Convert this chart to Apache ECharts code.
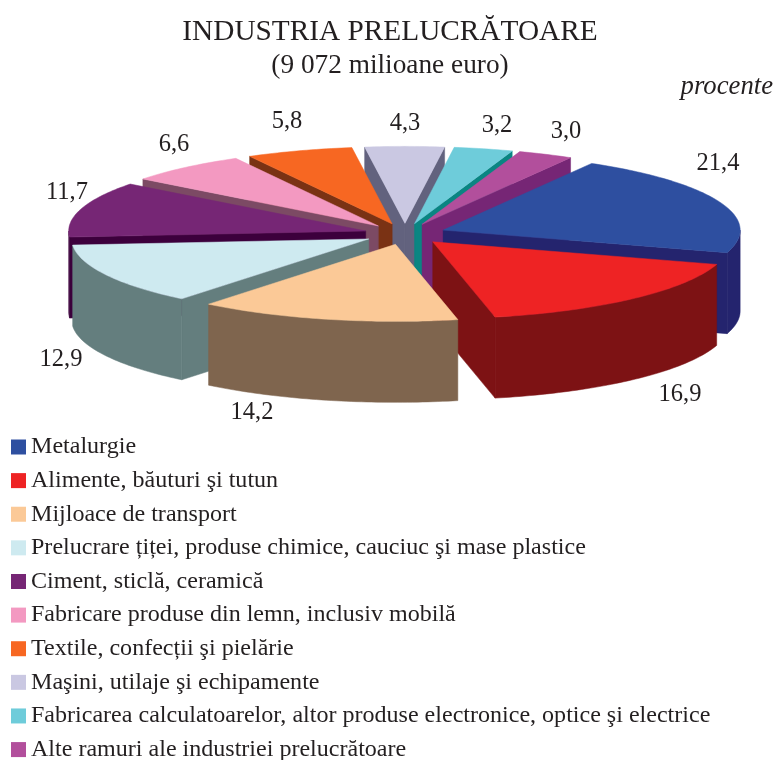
<!DOCTYPE html>
<html>
<head>
<meta charset="utf-8">
<style>html,body{margin:0;padding:0;background:#fff}#c{width:776px;height:760px}</style>
<script src="https://cdn.jsdelivr.net/npm/echarts@6/dist/echarts.min.js"></script>
</head>
<body>
<div id="c"></div>
<script>
const categories = [
  'Metalurgie',
  'Alimente, băuturi şi tutun',
  'Mijloace de transport',
  'Prelucrare țiței, produse chimice, cauciuc şi mase plastice',
  'Ciment, sticlă, ceramică',
  'Fabricare produse din lemn, inclusiv mobilă',
  'Textile, confecții şi pielărie',
  'Maşini, utilaje şi echipamente',
  'Fabricarea calculatoarelor, altor produse electronice, optice şi electrice',
  'Alte ramuri ale industriei prelucrătoare'
];
const values = [21.4, 16.9, 14.2, 12.9, 11.7, 6.6, 5.8, 4.3, 3.2, 3.0];
const topColors = ['#2E4FA0','#EE2324','#FBC997','#CEEAF0','#762675','#F399C1','#F76722','#CAC8E2','#6ECCDA','#B24F9C'];
const wallColors = ['#24246E','#7D1214','#7F654E','#647E7E','#3C003C','#7C4A64','#7A3214','#62627E','#0A8582','#762675'];
const labelAnchors = [[718,164],[680,395],[252,413],[61,360],[67,193],[174,145],[287,122],[405,124],[497,126],[566,132]];

// Projection of the tilted, exploded pie
const CX = 405, CY = 234, RX = 297, RY = 77, DEPTH = 81, EXPLODE = 41, START = -60;
const TEXT = '#231F20', SERIF = '"Liberation Serif", serif';
const rad = d => d * Math.PI / 180;
const total = values.reduce((a, b) => a + b, 0);

function renderSlice(params, api) {
  const i = params.seriesIndex;
  const value = api.value(0), before = api.value(1);
  const t1 = START + before / total * 360, t2 = t1 + value / total * 360, mid = (t1 + t2) / 2;
  const ax = CX + EXPLODE * Math.cos(rad(mid));
  const ay = CY + EXPLODE * (RY / RX) * Math.sin(rad(mid));
  const pt = (t, h) => [ax + RX * Math.cos(rad(t)), ay + RY * Math.sin(rad(t)) + (h || 0)];
  const arc = (a, b, h) => {
    const out = [], n = Math.max(2, Math.ceil(Math.abs(b - a)));
    for (let k = 0; k <= n; k++) out.push(pt(a + (b - a) * k / n, h));
    return out;
  };
  const base = Math.round(Math.sin(rad(mid)) * 1000) * 4;
  const wall = wallColors[i], top = topColors[i];
  const poly = (points, fill, z2) => ({
    type: 'polygon', z2, shape: { points },
    style: { fill, stroke: fill, lineWidth: 0.5 }
  });
  const children = [];
  const radial = t => poly([[ax, ay], pt(t), pt(t, DEPTH), [ax, ay + DEPTH]], wall, base);
  if (Math.cos(rad(t1)) < 0) children.push(radial(t1));
  if (Math.cos(rad(t2)) > 0) children.push(radial(t2));
  // Only the front half of the rim shows, in either turn of the circle
  [[0, 180], [360, 540]].forEach(([lo, hi]) => {
    const a = Math.max(t1, lo), b = Math.min(t2, hi);
    if (b > a) children.push(poly(arc(a, b).concat(arc(b, a, DEPTH)), wall, base + 1));
  });
  children.push(poly([[ax, ay]].concat(arc(t1, t2)), top, base + 2));
  children.push({
    type: 'text', z2: 20000,
    style: {
      text: value.toFixed(1).replace('.', ','),
      x: labelAnchors[i][0], y: labelAnchors[i][1],
      align: 'center', verticalAlign: 'middle',
      font: '24.5px ' + SERIF, fill: TEXT
    }
  });
  return { type: 'group', children };
}

let running = 0;
const series = categories.map((name, i) => {
  const row = [values[i], running];
  running += values[i];
  return {
    type: 'custom', name, coordinateSystem: 'none', silent: true, animation: false,
    itemStyle: { color: topColors[i] },
    renderItem: renderSlice,
    data: [row]
  };
});

const chart = echarts.init(document.getElementById('c'), null, { renderer: 'canvas' });
chart.setOption({
  backgroundColor: '#fff',
  animation: false,
  tooltip: { show: false },
  title: {
    text: 'INDUSTRIA PRELUCRĂTOARE',
    subtext: '(9 072 milioane euro)',
    left: 390, textAlign: 'center', top: 18, itemGap: 5, padding: 0,
    textStyle: { fontFamily: SERIF, fontWeight: 'normal', fontSize: 29.3, color: TEXT },
    subtextStyle: { fontFamily: SERIF, fontSize: 27.3, color: TEXT }
  },
  graphic: [{
    type: 'text', right: 3, top: 73,
    style: { text: 'procente', font: 'italic 26.7px ' + SERIF, fill: TEXT }
  }],
  legend: {
    orient: 'vertical', left: 11, top: 435, height: 340, padding: 0,
    selectedMode: false, icon: 'rect', itemWidth: 15, itemHeight: 15, itemGap: 9.62,
    textStyle: { fontFamily: SERIF, fontSize: 24.05, lineHeight: 21, color: TEXT },
    data: categories
  },
  series
});
</script>
</body>
</html>
